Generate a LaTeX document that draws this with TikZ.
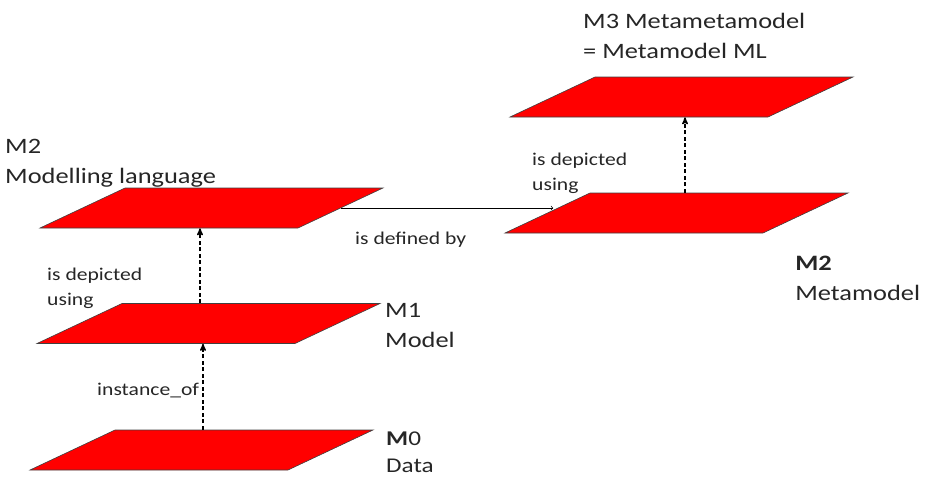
\documentclass[tikz,border=0pt]{standalone}
\usepackage{fontspec}
\setmainfont{Carlito}
\usetikzlibrary{arrows}

\tikzset{
  plane/.style={rectangle, minimum width=258pt, minimum height=40pt, inner sep=0pt,
    xslant=2.125, transform shape, fill=red, draw=black!75, line width=0.6pt},
  lbl/.style={font=\fontsize{22}{30}\selectfont, align=left, inner sep=0pt,
    anchor=base west, xscale=1.2, transform shape, text=black!85},
  slbl/.style={lbl, font=\fontsize{18}{25}\selectfont},
  dep/.style={->, line width=1.4pt, dash pattern=on 4pt off 2.5pt},
}

\begin{document}
\begin{tikzpicture}[x=1pt,y=-1pt,>=stealth']
  \useasboundingbox (0,0) rectangle (931,479);

  % levels
  \node[plane] (m0) at (201.5,450) {};
  \node[plane] (m1) at (208.5,323.5) {};
  \node[plane] (ml) at (211.5,208) {};
  \node[plane] (mm) at (676.5,213) {};
  \node[plane] (m3) at (681.5,97) {};

  \node[lbl] (ml-txt) at (5,183) {M2\\Modelling language};
  \node[lbl] (m1-txt) at (385,347) {M1\\Model};
  \node[lbl, font=\fontsize{21}{27}\selectfont] (m0-txt) at (386,472) {\textbf{M}0\\Data};
  \node[lbl] (mm-txt) at (795,300) {\textbf{M2}\\Metamodel};
  \node[lbl] (m3-txt) at (583,58) {M3 Metametamodel\\= Metamodel ML};

  % relations
  \draw[dep] (m0.north -| 203,0) -- (m1.south -| 203,0);
  \draw[dep] (m1.north -| 200,0) -- (ml.south -| 200,0);
  \draw[dep] (mm.north -| 685,0) -- (m3.south -| 685,0);
  \draw[-to, line width=0.7pt, shorten >=-6pt] (ml.east) -- (ml.east -| mm.west);

  \node[slbl] (inst) at (97,395) {instance\_of};
  \node[slbl] (dep-l) at (47,305) {is depicted\\using};
  \node[slbl] (def) at (355,244) {is defined by};
  \node[slbl] (dep-r) at (532,190) {is depicted\\using};
\end{tikzpicture}
\end{document}
